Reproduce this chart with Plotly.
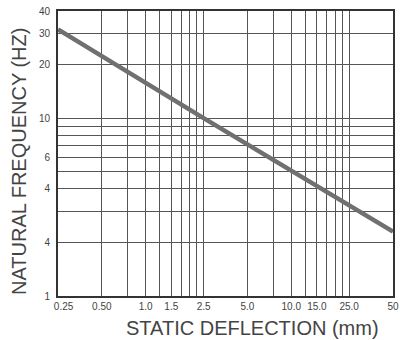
import plotly.graph_objects as go

# Data
deflection_mm = [0.25, 2.5, 50]
frequency_hz = [31.5, 10.0, 2.3]

x_grid = [0.5, 0.75, 1.0, 1.25, 1.5, 1.75, 2.0, 2.25, 2.5, 5.0, 7.5, 10.0, 12.5, 15.0, 17.5, 20.0, 22.5, 25.0]
x_label_vals = [0.25, 0.5, 1.0, 1.5, 2.5, 5.0, 10.0, 15.0, 25.0, 50]
x_label_text = ["\u00a0\u00a0\u00a0\u00a00.25", "0.50", "1.0", "1.5", "2.5", "5.0", "10.0", "15.0", "25.0", "50"]

y_grid = [2, 3, 4, 5, 6, 7, 8, 9, 10, 20, 30]
y_label_vals = [1, 2, 4, 6, 10, 20, 30, 40]
y_label_text = ["1", "4", "4", "6", "10", "20", "30", "40"]

x_title = "STATIC DEFLECTION (mm)"
y_title = "NATURAL FREQUENCY (HZ)"

# Build tick arrays (grid lines at all, labels only where printed)
xv = sorted(set(x_grid) | set(x_label_vals))
xt = [x_label_text[x_label_vals.index(v)] if v in x_label_vals else "" for v in xv]
yv = sorted(set(y_grid) | set(y_label_vals))
yt = [y_label_text[y_label_vals.index(v)] if v in y_label_vals else "" for v in yv]

fig = go.Figure()
fig.add_trace(go.Scatter(
    x=deflection_mm, y=frequency_hz, mode="lines",
    line=dict(color="#707070", width=4.5), showlegend=False, hoverinfo="skip"))

L, T, PW, PH = 58, 11, 335, 285
font = "Liberation Sans, Arial, sans-serif"
fig.update_layout(
    width=400, height=340,
    margin=dict(l=L, r=400 - L - PW, t=T, b=340 - T - PH, autoexpand=False),
    paper_bgcolor="white", plot_bgcolor="white",
    font=dict(family=font, color="#333333"),
)
fig.update_xaxes(
    type="log", range=[-0.60206, 1.69897],
    tickmode="array", tickvals=xv, ticktext=xt,
    tickfont=dict(size=10, color="#444444"),
    showgrid=True, gridcolor="#555555", gridwidth=1,
    showline=True, linecolor="#333333", linewidth=2, mirror=True,
    ticks="", zeroline=False, ticklabeloverflow="allow",
)
fig.update_yaxes(
    type="log", range=[0, 1.60206],
    tickmode="array", tickvals=yv, ticktext=yt,
    tickfont=dict(size=10, color="#444444"),
    showgrid=True, gridcolor="#555555", gridwidth=1,
    showline=True, linecolor="#333333", linewidth=2, mirror=True,
    ticks="", ticklabelstandoff=4, zeroline=False, ticklabeloverflow="allow",
)
# screen coords -> paper coords
fig.add_annotation(text=x_title, xref="paper", yref="paper",
                   x=(252 - L) / PW, y=-(328 - (T + PH)) / PH,
                   showarrow=False, font=dict(size=20, color="#444444"),
                   xanchor="center", yanchor="middle")
fig.add_annotation(text=y_title, xref="paper", yref="paper",
                   x=-(L - 19) / PW, y=((T + PH) - 162) / PH, textangle=-90,
                   showarrow=False, font=dict(size=20, color="#444444"),
                   xanchor="center", yanchor="middle")

fig.write_html("out.html", config={"displayModeBar": False},
               post_script="document.body.style.margin='0';")
